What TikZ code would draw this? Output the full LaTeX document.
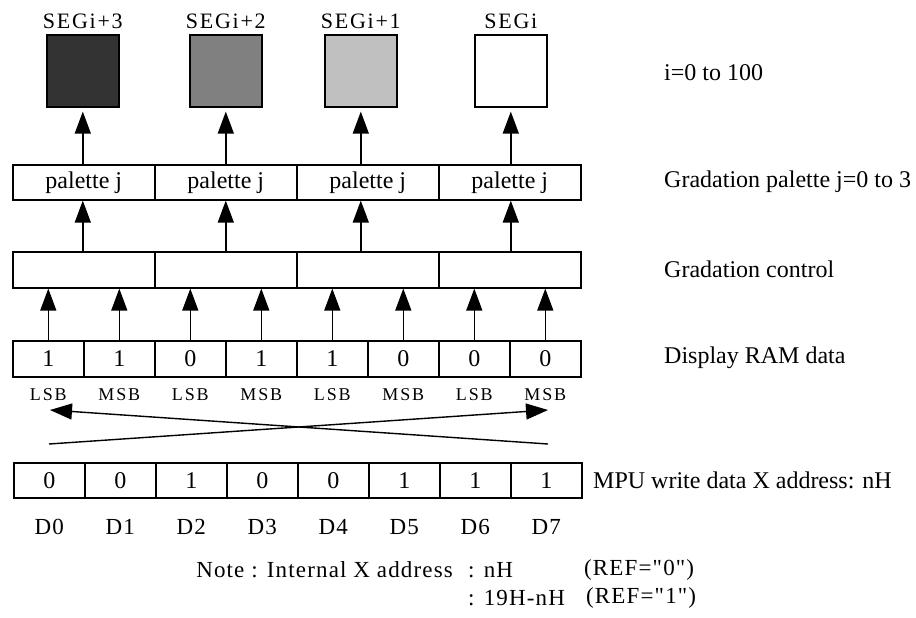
\documentclass[tikz,border=0pt]{standalone}
\usepackage{fontspec}
\setmainfont{Liberation Serif}[Ligatures=TeXOff]
\usetikzlibrary{arrows.meta,calc}

\definecolor{segdark}{RGB}{51,51,51}
\definecolor{segmid}{RGB}{128,128,128}
\definecolor{seglight}{RGB}{192,192,192}

\tikzset{
  txt/.style={font=\fontsize{24}{27}\selectfont,inner sep=0pt},
  note/.style={font=\fontsize{23}{26}\selectfont\addfontfeature{LetterSpace=5},inner sep=0pt},
  spaced/.style={font=\fontsize{22}{26}\selectfont\addfontfeature{LetterSpace=8},inner sep=0pt},
  small/.style={font=\fontsize{18}{22}\selectfont\addfontfeature{LetterSpace=10},inner sep=0pt},
  cell/.style={txt,draw,line width=1.6pt,minimum width=71pt,minimum height=36pt,anchor=north west},
  wide/.style={cell,minimum width=142pt},
  seg/.style={draw,line width=1.6pt,minimum width=72pt,minimum height=72pt,inner sep=0pt,anchor=north west},
  arr/.style={line width=1.4pt,-{Triangle[length=22pt,width=16pt]}}
}

\begin{document}
\begin{tikzpicture}[x=1pt,y=-1pt]
\useasboundingbox (0,0) rectangle (916,618);

\def\x{12}; \def\w{71};

% segments
\foreach \c/\l/\t [count=\i] in {segdark/46/SEGi+3,segmid/189/SEGi+2,seglight/324/SEGi+1,white/474/SEGi}{
\node[seg,fill=\c,label={[spaced,yshift=5pt]above:\t}] (s\i) at (\l,34) {};
}

% palette and gradation control
\foreach \i in {1,...,4}{
\node[wide,minimum height=35pt] (p\i) at ({\x+2*\w*(\i-1)},164) {palette j};
\node[wide] (c\i) at ({\x+2*\w*(\i-1)},251) {};
\draw[arr] (p\i.north -| s\i.south) -- ([yshift=-4pt]s\i.south);
\draw[arr] (c\i.north -| s\i.south) -- (p\i.south -| s\i.south);
}

% display RAM
\foreach \v/\b [count=\i] in {1/LSB,1/MSB,0/LSB,1/MSB,1/LSB,0/MSB,0/LSB,0/MSB}{
\node[cell] (r\i) at ({\x+\w*(\i-1)},340) {\v};
\node[small] (b\i) at ($(r\i.south)+(0,17)$) {\b};
\draw[arr] (r\i.north) -- (r\i.north |- c1.south);
}

% MPU data
\foreach \v [count=\i] in {0,0,1,0,0,1,1,1}{
\node[cell,minimum height=35pt] (m\i) at ({\x+1+\w*(\i-1)},462) {\v};
\pgfmathtruncatemacro{\k}{\i-1}
\node[note] (d\i) at ($(m\i.south)+(0,28)$) {D\k};
}

% swap
\coordinate (xl1) at (50,410); \coordinate (xr1) at (548,444);
\coordinate (xl2) at (49,444); \coordinate (xr2) at (548,410);
\draw[arr] (xr1) -- (xl1);
\draw[arr] (xl2) -- (xr2);

\node[txt,anchor=west] (ti) at (664,73) {i=0 to 100};
\node[txt,anchor=west] (tp) at (664,182) {Gradation palette j=0 to 3};
\node[txt,anchor=west] (tc) at (664,269) {Gradation control};
\node[txt,anchor=west] (tr) at (664,358) {Display RAM data};
\node[txt,anchor=west] (tm) at (593,480) {MPU write data X address: nH};

\node[note,anchor=east] (n1) at (453,570) {Note : Internal X address};
\node[note,anchor=west] (n2) at (468,570) {: nH};
\node[note,anchor=west] (n3) at (584,570) {(REF="0")};
\node[note,anchor=west] (n4) at (468,598) {: 19H-nH};
\node[note,anchor=west] (n5) at (586,598) {(REF="1")};

\end{tikzpicture}
\end{document}
